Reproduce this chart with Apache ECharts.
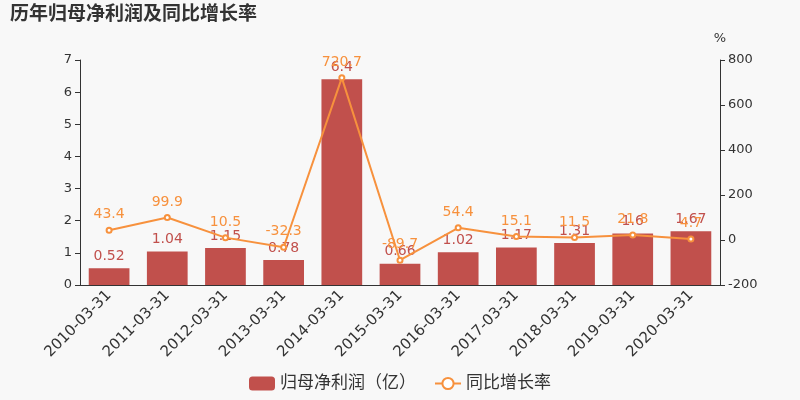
<!DOCTYPE html>
<html><head><meta charset="utf-8">
<script src="https://cdn.jsdelivr.net/npm/echarts@6/dist/echarts.min.js"></script>
<style>html,body{margin:0;padding:0;background:#f8f8f8;}#c{width:800px;height:400px;}</style>
</head><body><div id="c"></div>
<script>
const categories = ['2010-03-31','2011-03-31','2012-03-31','2013-03-31','2014-03-31','2015-03-31','2016-03-31','2017-03-31','2018-03-31','2019-03-31','2020-03-31'];
const profit = [0.52,1.04,1.15,0.78,6.4,0.66,1.02,1.17,1.31,1.6,1.67];
const growth = [43.4,99.9,10.5,-32.3,720.7,-89.7,54.4,15.1,11.5,21.8,4.7];
const leftTicks = {min:0,max:7,interval:1};
const rightTicks = {min:-200,max:800,interval:200};
const chart = echarts.init(document.getElementById('c'));
const font = 'DejaVu Sans, Noto Sans CJK SC';
chart.setOption({
  backgroundColor:'#f8f8f8',
  animation:false,
  textStyle:{fontFamily:font},
  title:{text:'历年归母净利润及同比增长率',left:5,top:1,textStyle:{fontSize:19,fontWeight:'bold',color:'#333',fontFamily:font}},
  legend:{bottom:3,left:'center',itemWidth:26,itemHeight:14,itemGap:18,textStyle:{fontSize:17,color:'#333'},
    data:[{name:'归母净利润（亿）',icon:'roundRect'},{name:'同比增长率'}]},
  grid:{left:80,right:80,top:60,bottom:115},
  xAxis:{type:'category',data:categories,axisLine:{lineStyle:{color:'#333'}},axisTick:{alignWithLabel:false,lineStyle:{color:'#333'}},
    axisLabel:{rotate:45,fontSize:15,color:'#333',interval:0,margin:8}},
  yAxis:[
    {type:'value',min:leftTicks.min,max:leftTicks.max,interval:leftTicks.interval,splitLine:{show:false},
      axisLine:{show:true,lineStyle:{color:'#333'}},axisTick:{show:true},axisLabel:{fontSize:13,color:'#333'}},
    {type:'value',name:'%',nameTextStyle:{fontSize:13,color:'#333'},min:rightTicks.min,max:rightTicks.max,interval:rightTicks.interval,splitLine:{show:false},
      axisLine:{show:true,lineStyle:{color:'#333'}},axisTick:{show:true},axisLabel:{fontSize:13,color:'#333'}}
  ],
  series:[
    {name:'归母净利润（亿）',type:'bar',data:profit,barWidth:'70%',itemStyle:{color:'#c1504c'},
      label:{show:true,position:'top',fontSize:14,color:'#c1504c'}},
    {name:'同比增长率',type:'line',yAxisIndex:1,data:growth,symbol:'emptyCircle',symbolSize:5,
      itemStyle:{color:'#f7913d'},lineStyle:{width:2,color:'#f7913d'},
      label:{show:true,position:'top',fontSize:14,color:'#f7913d'}}
  ]
});
</script></body></html>
